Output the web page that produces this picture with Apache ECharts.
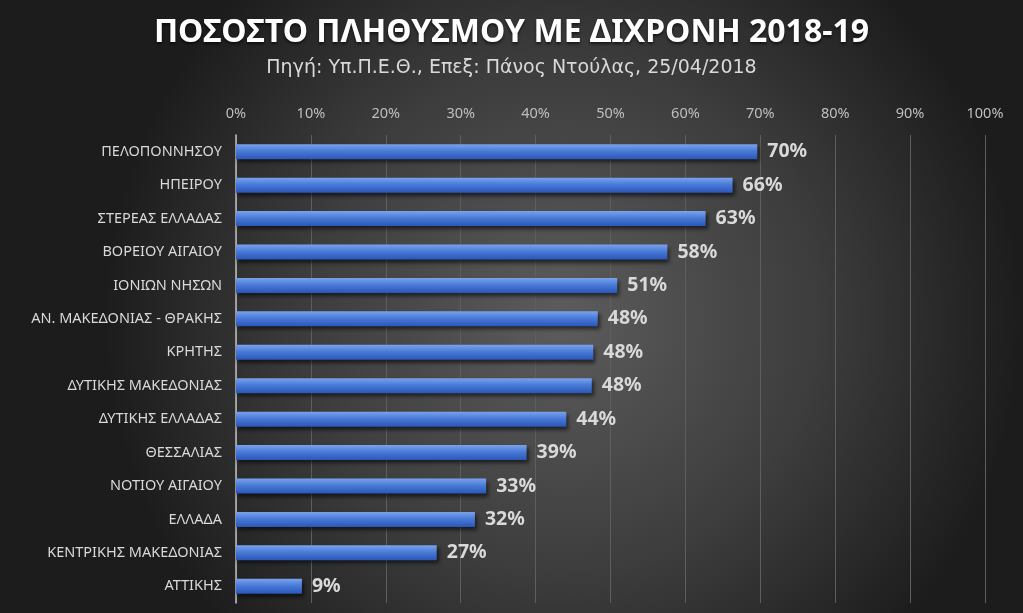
<!DOCTYPE html>
<html>
<head>
<meta charset="utf-8">
<script src="https://cdn.jsdelivr.net/npm/echarts@6/dist/echarts.min.js"></script>
<style>
  html, body { margin: 0; padding: 0; }
  #chart { width: 1023px; height: 613px; }
</style>
</head>
<body>
<div id="chart"></div>
<script>
// περιφέρειες (από πάνω προς τα κάτω)
var regions = [
  "ΠΕΛΟΠΟΝΝΗΣΟΥ", "ΗΠΕΙΡΟΥ", "ΣΤΕΡΕΑΣ ΕΛΛΑΔΑΣ", "ΒΟΡΕΙΟΥ ΑΙΓΑΙΟΥ",
  "ΙΟΝΙΩΝ ΝΗΣΩΝ", "ΑΝ. ΜΑΚΕΔΟΝΙΑΣ - ΘΡΑΚΗΣ", "ΚΡΗΤΗΣ", "ΔΥΤΙΚΗΣ ΜΑΚΕΔΟΝΙΑΣ",
  "ΔΥΤΙΚΗΣ ΕΛΛΑΔΑΣ", "ΘΕΣΣΑΛΙΑΣ", "ΝΟΤΙΟΥ ΑΙΓΑΙΟΥ", "ΕΛΛΑΔΑ",
  "ΚΕΝΤΡΙΚΗΣ ΜΑΚΕΔΟΝΙΑΣ", "ΑΤΤΙΚΗΣ"
];
// ποσοστό πληθυσμού (%)
var percents = [69.6, 66.3, 62.7, 57.6, 50.9, 48.3, 47.7, 47.5, 44.1, 38.8, 33.4, 31.9, 26.8, 8.8];
var titleText = "ΠΟΣΟΣΤΟ ΠΛΗΘΥΣΜΟΥ ΜΕ ΔΙΧΡΟΝΗ 2018-19";
var subText = "Πηγή: Υπ.Π.Ε.Θ., Επεξ: Πάνος Ντούλας, 25/04/2018";

var chart = echarts.init(document.getElementById("chart"));

chart.setOption({
  backgroundColor: new echarts.graphic.RadialGradient(0.55, 0.52, 0.75, [
    { offset: 0, color: "#5c5c5c" },
    { offset: 0.55, color: "#3d3d3d" },
    { offset: 1, color: "#1c1c1c" }
  ]),
  textStyle: { fontFamily: "Noto Sans" },
  title: {
    text: titleText,
    subtext: subText,
    left: "center",
    top: 12,
    itemGap: 10,
    textStyle: {
      color: "#ffffff",
      fontSize: 32,
      fontWeight: "bold",
      fontFamily: "Noto Sans",
      textShadowColor: "rgba(0,0,0,0.6)",
      textShadowBlur: 3,
      textShadowOffsetY: 2
    },
    subtextStyle: {
      color: "#d9d9d9",
      fontSize: 19,
      fontFamily: "DejaVu Sans"
    }
  },
  grid: { left: 236, right: 38, top: 135, bottom: 10 },
  xAxis: {
    type: "value",
    position: "top",
    min: 0,
    max: 100,
    interval: 10,
    axisLine: { show: false },
    axisTick: { show: false },
    axisLabel: {
      color: "#bfbfbf",
      fontSize: 14.5,
      margin: 14,
      formatter: "{value}%"
    },
    splitLine: { lineStyle: { color: "#5e5e5e", width: 1 } }
  },
  yAxis: {
    type: "category",
    inverse: true,
    data: regions,
    axisLine: { lineStyle: { color: "#bfbfbf", width: 1.5 } },
    axisTick: { show: false },
    axisLabel: { color: "#d9d9d9", fontSize: 14.5, margin: 14 }
  },
  series: [
    {
      type: "bar",
      data: percents,
      barWidth: 15,
      itemStyle: {
        color: new echarts.graphic.LinearGradient(0, 0, 0, 1, [
          { offset: 0, color: "#7aa3ec" },
          { offset: 0.45, color: "#4a7bd8" },
          { offset: 1, color: "#2a56b8" }
        ]),
        shadowColor: "rgba(0,0,0,0.6)",
        shadowBlur: 4,
        shadowOffsetY: 3,
        shadowOffsetX: 2
      },
      label: {
        show: true,
        position: "right",
        distance: 10,
        color: "#d9d9d9",
        fontSize: 19.5,
        fontWeight: "bold",
        formatter: function (p) {
          return Math.round(p.value) + "%";
        }
      }
    }
  ]
});
</script>
</body>
</html>
